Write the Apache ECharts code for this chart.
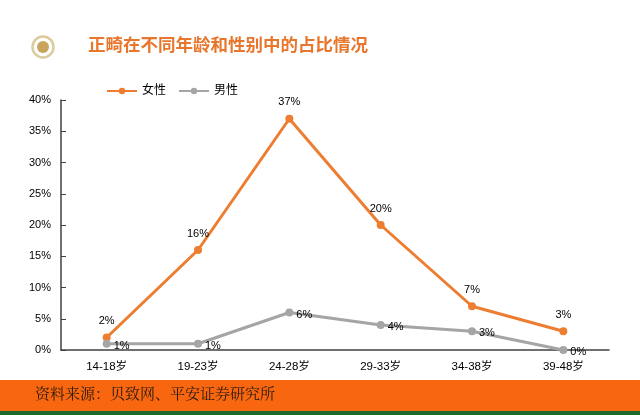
<!DOCTYPE html>
<html>
<head>
<meta charset="utf-8">
<script src="https://cdn.jsdelivr.net/npm/echarts@6/dist/echarts.min.js"></script>
<style>html,body{margin:0;padding:0;background:#fff;}#c{width:640px;height:415px;}</style>
</head>
<body>
<div id="c"></div>
<script>
const categories = ['14-18岁', '19-23岁', '24-28岁', '29-33岁', '34-38岁', '39-48岁'];
const femaleValues = [2, 16, 37, 20, 7, 3];
const maleValues = [1, 1, 6, 4, 3, 0];
const yTicks = [0, 5, 10, 15, 20, 25, 30, 35, 40];
const titleText = '正畸在不同年龄和性别中的占比情况';
const sourceText = '资料来源：贝致网、平安证券研究所';

const chart = echarts.init(document.getElementById('c'));
const cjk = '"Liberation Sans", Arial, "Noto Sans CJK SC", sans-serif';
chart.setOption({
  animation: false,
  textStyle: { fontFamily: cjk },
  legend: {
    top: 80, left: 101, itemWidth: 30, itemHeight: 8, itemGap: 12,
    textStyle: { fontSize: 12, color: '#000', fontFamily: cjk },
    data: ['女性', '男性']
  },
  grid: { left: 61, right: 31, top: 100, bottom: 65 },
  xAxis: {
    type: 'category', data: categories, boundaryGap: true,
    axisLine: { lineStyle: { color: '#404040', width: 1.5 } },
    axisTick: { inside: true, length: 5, lineStyle: { color: '#404040' } },
    axisLabel: { color: '#000', fontSize: 11.5, margin: 11 }
  },
  yAxis: {
    type: 'value', min: yTicks[0], max: yTicks[yTicks.length - 1], interval: 5,
    axisLine: { show: true, lineStyle: { color: '#404040', width: 1.5 } },
    axisTick: { show: true, inside: true, length: 5, lineStyle: { color: '#404040' } },
    splitLine: { show: false },
    axisLabel: { color: '#000', fontSize: 11, formatter: v => v + '%', margin: 10 }
  },
  series: [
    {
      name: '女性', type: 'line', data: femaleValues,
      symbol: 'circle', symbolSize: 8,
      lineStyle: { color: '#ed7d31', width: 3 },
      itemStyle: { color: '#ed7d31' },
      label: { show: true, position: 'top', distance: 7, formatter: p => p.value + '%', color: '#000', fontSize: 11 }
    },
    {
      name: '男性', type: 'line', data: maleValues,
      symbol: 'circle', symbolSize: 8,
      lineStyle: { color: '#a5a5a5', width: 3 },
      itemStyle: { color: '#a5a5a5' },
      label: { show: true, position: 'right', distance: 3, offset: [0, 2], formatter: p => p.value + '%', color: '#000', fontSize: 11 }
    }
  ],
  graphic: [
    { type: 'circle', shape: { cx: 43, cy: 47, r: 10.5 }, style: { fill: 'none', stroke: '#dccb9c', lineWidth: 2.5 } },
    { type: 'circle', shape: { cx: 43, cy: 47, r: 6 }, style: { fill: '#c8a45e' } },
    { type: 'text', left: 88, top: 36, style: { text: titleText, fill: '#e8762d', font: 'bold 17.5px "Noto Sans CJK SC", sans-serif' } },
    { type: 'rect', shape: { x: 0, y: 380, width: 640, height: 31 }, style: { fill: '#f86710' } },
    { type: 'rect', shape: { x: 0, y: 411, width: 640, height: 4 }, style: { fill: '#1d6b2c' } },
    { type: 'text', left: 35, top: 386, style: { text: sourceText, fill: '#2a1a10', font: '15px "Noto Serif CJK SC", "Noto Sans CJK SC", serif' } }
  ]
});
</script>
</body>
</html>
